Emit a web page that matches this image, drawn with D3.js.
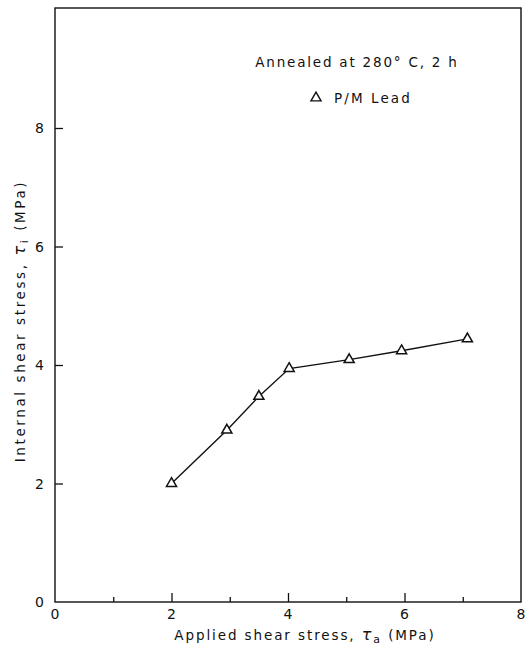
<!DOCTYPE html>
<html>
<head>
<meta charset="utf-8">
<script src="https://cdn.jsdelivr.net/npm/d3@7"></script>
<style>
  body { margin: 0; background: #fff; }
  text { font-family: "DejaVu Sans", sans-serif; fill: #111; }
</style>
</head>
<body>
<div id="chart"></div>
<script>
// data
var appliedStress = [2.0, 2.95, 3.5, 4.02, 5.05, 5.95, 7.08];
var internalStress = [2.0, 2.9, 3.47, 3.94, 4.09, 4.24, 4.44];
var xTickLabels = [0, 2, 4, 6, 8];
var yTickLabels = [0, 2, 4, 6, 8];
var xMinorTicks = [1, 3, 5, 7];

var W = 527, H = 649;
var svg = d3.select("#chart").append("svg")
  .attr("width", W).attr("height", H);

// scales
var x = d3.scaleLinear().domain([0, 8]).range([55, 521]);
var y = d3.scaleLinear().domain([0, 8]).range([602, 128]);
var yTop = 8;

// frame
svg.append("rect")
  .attr("x", x(0)).attr("y", yTop)
  .attr("width", x(8) - x(0)).attr("height", y(0) - yTop)
  .attr("fill", "none").attr("stroke", "#111").attr("stroke-width", 1.4);

// x axis ticks, inward
var xAxis = d3.axisBottom(x).tickValues(xTickLabels.slice(1, 4))
  .tickSize(-9).tickFormat("");
svg.append("g").attr("transform", "translate(0," + y(0) + ")").call(xAxis)
  .call(function(g) { g.select(".domain").remove(); })
  .selectAll("line").attr("stroke", "#111").attr("stroke-width", 1.3);

var xMinor = d3.axisBottom(x).tickValues(xMinorTicks).tickSize(-5).tickFormat("");
svg.append("g").attr("transform", "translate(0," + y(0) + ")").call(xMinor)
  .call(function(g) { g.select(".domain").remove(); })
  .selectAll("line").attr("stroke", "#111").attr("stroke-width", 1.3);

// y axis ticks, inward
var yAxis = d3.axisLeft(y).tickValues(yTickLabels.slice(1)).tickSize(-8).tickFormat("");
svg.append("g").attr("transform", "translate(" + x(0) + ",0)").call(yAxis)
  .call(function(g) { g.select(".domain").remove(); })
  .selectAll("line").attr("stroke", "#111").attr("stroke-width", 1.3);

// tick labels
svg.selectAll(".xlab").data(xTickLabels).enter().append("text")
  .attr("x", function(d) { return x(d); })
  .attr("y", y(0) + 17)
  .attr("text-anchor", "middle")
  .attr("font-size", 14)
  .text(function(d) { return d; });

svg.selectAll(".ylab").data(yTickLabels).enter().append("text")
  .attr("x", x(0) - 11)
  .attr("y", function(d) { return y(d) + 5; })
  .attr("text-anchor", "end")
  .attr("font-size", 14)
  .text(function(d) { return d; });

// axis titles
var xt = svg.append("text")
  .attr("x", 305).attr("y", 640)
  .attr("text-anchor", "middle")
  .attr("font-size", 13.5)
  .attr("letter-spacing", 1.9);
xt.append("tspan").text("Applied shear stress, ");
xt.append("tspan").attr("font-style", "italic").attr("font-size", 16).text("τ");
xt.append("tspan").attr("font-size", 11).attr("dy", 3).text("a");
xt.append("tspan").attr("dy", -3).text(" (MPa)");

var yt = svg.append("text")
  .attr("transform", "translate(25,321) rotate(-90)")
  .attr("text-anchor", "middle")
  .attr("font-size", 13.5)
  .attr("letter-spacing", 2.6);
yt.append("tspan").text("Internal shear stress, ");
yt.append("tspan").attr("font-style", "italic").attr("font-size", 16).text("τ");
yt.append("tspan").attr("font-size", 11).attr("dy", 3).text("i");
yt.append("tspan").attr("dy", -3).text(" (MPa)");

// annotation and legend
svg.append("text")
  .attr("x", 357).attr("y", 67)
  .attr("text-anchor", "middle")
  .attr("font-size", 13.5)
  .attr("letter-spacing", 1.8)
  .text("Annealed at 280° C, 2 h");

var tri = d3.symbol().type(d3.symbolTriangle).size(44);

svg.append("path")
  .attr("d", tri())
  .attr("transform", "translate(316,98)")
  .attr("fill", "#fff").attr("stroke", "#111").attr("stroke-width", 1.4);
svg.append("text")
  .attr("x", 334).attr("y", 103)
  .attr("font-size", 13.5)
  .attr("letter-spacing", 2.1)
  .text("P/M Lead");

// data line
var pts = appliedStress.map(function(d, i) { return [d, internalStress[i]]; });
var line = d3.line()
  .x(function(d) { return x(d[0]); })
  .y(function(d) { return y(d[1]); });

svg.append("path")
  .datum(pts)
  .attr("d", line)
  .attr("fill", "none").attr("stroke", "#111").attr("stroke-width", 1.4);

svg.selectAll(".pt").data(pts).enter().append("path")
  .attr("d", tri())
  .attr("transform", function(d) { return "translate(" + x(d[0]) + "," + y(d[1]) + ")"; })
  .attr("fill", "#fff").attr("stroke", "#111").attr("stroke-width", 1.5);
</script>
</body>
</html>
